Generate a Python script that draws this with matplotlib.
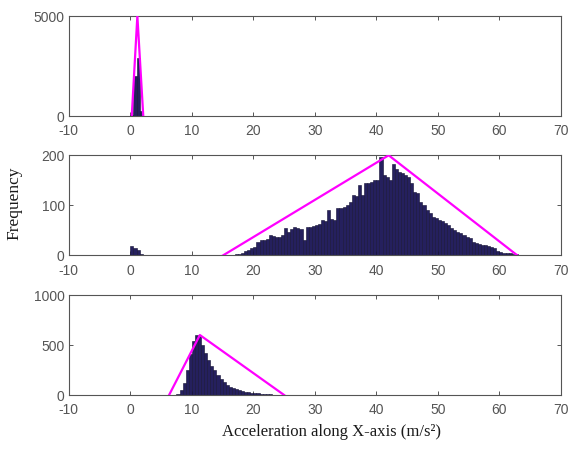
import numpy as np
import matplotlib
matplotlib.use('Agg')
import matplotlib.pyplot as plt

plt.rcParams['axes.unicode_minus'] = False

# histogram counts, 0.5 wide bins starting at the given value
bin_w = 0.5
x_max = 65.0

top_start = 0.0
top_counts = [60, 2000, 2900, 250]

mid_start = 0.0
mid_counts = [18, 14, 11, 2, 0, 0, 0, 0, 0, 0, 0, 0, 0, 0, 0, 1, 1, 0, 0, 0,
              0, 0, 0, 0, 0, 0, 0, 0, 0, 0, 0, 0, 0, 0, 2, 3, 5, 8, 10, 14,
              16, 27, 31, 30, 32, 41, 38, 37, 37, 40, 54, 47, 52, 57, 54, 52, 30, 57, 56, 58,
              60, 62, 70, 69, 90, 72, 70, 94, 95, 97, 100, 107, 120, 118, 140, 120, 144, 145, 146, 150,
              150, 197, 160, 157, 150, 183, 172, 167, 165, 160, 157, 144, 127, 124, 107, 100, 90, 84, 77, 75,
              70, 68, 64, 60, 54, 50, 47, 44, 40, 36, 34, 26, 24, 22, 21, 20, 19, 16, 14, 9,
              7, 5, 4, 4, 3, 2, 1, 1, 1]

bot_start = 0.0
bot_counts = [5, 3, 0, 0, 0, 0, 0, 0, 0, 0, 0, 0, 0, 0, 5, 15, 50, 120, 250, 410,
              540, 600, 590, 500, 420, 350, 290, 250, 200, 160, 130, 105, 85, 70, 62, 50, 42, 35, 30, 24,
              20, 17, 14, 11, 9, 7, 5, 4, 3, 2, 1]

# triangular envelopes (x, y) for each panel
top_tri_x = [0.23, 1.14, 2.1]
top_tri_y = [0, 5000, 0]
mid_tri_x = [15.1, 42.0, 62.9]
mid_tri_y = [0, 200, 0]
bot_tri_x = [6.3, 11.3, 25.0]
bot_tri_y = [0, 600, 0]

y_limits = [(0, 5000), (0, 200), (0, 1000)]
y_ticks = [[0, 5000], [0, 100, 200], [0, 500, 1000]]

panels = [(top_start, top_counts, top_tri_x, top_tri_y),
          (mid_start, mid_counts, mid_tri_x, mid_tri_y),
          (bot_start, bot_counts, bot_tri_x, bot_tri_y)]

fig = plt.figure(figsize=(5.69, 4.5), dpi=100)
bottoms = [0.7422, 0.4327, 0.1222]
left, width, height = 0.121, 0.8647, 0.2222

bar_face = '#25205e'
bar_edge = '#120f33'
spine_col = '#555555'
tick_col = '#555555'

for i, (start, counts, tx, ty) in enumerate(panels):
    ax = fig.add_axes([left, bottoms[i], width, height])
    n_bins = int(round((x_max - start) / bin_w))
    full = np.zeros(n_bins)
    full[:len(counts)] = counts
    edges = start + bin_w * np.arange(n_bins)
    ax.bar(edges, full, width=bin_w, align='edge', color=bar_face,
           edgecolor=bar_edge, linewidth=0.4, zorder=2)
    ax.plot(tx, ty, color='#ff00ff', linewidth=1.6, zorder=3)
    ax.set_xlim(-10, 70)
    ax.set_ylim(*y_limits[i])
    ax.set_xticks(range(-10, 71, 10))
    ax.set_yticks(y_ticks[i])
    ax.tick_params(direction='in', length=3, width=0.7, color=spine_col,
                   labelcolor=tick_col, labelsize=10, top=True, right=True,
                   labelfontfamily='Liberation Sans')
    ax.tick_params(axis='x', pad=6)
    ax.tick_params(axis='y', pad=3)
    for s in ax.spines.values():
        s.set_color(spine_col)
        s.set_linewidth(0.8)

fig.text(0.025, 0.548, 'Frequency', rotation=90, ha='center', va='center',
         family='Liberation Serif', fontsize=12.5, color='#1a1a1a')
fig.text(0.582, 0.04, 'Acceleration along X-axis (m/s\u00b2)', ha='center', va='center',
         family='Liberation Serif', fontsize=12, color='#1a1a1a')

fig.savefig('out.png', dpi=100)
